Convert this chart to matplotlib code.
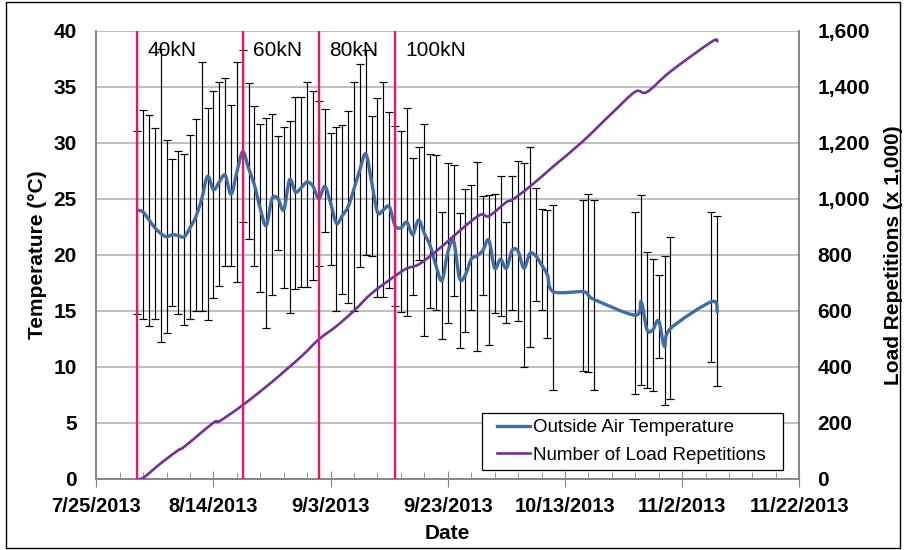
import numpy as np
import pandas as pd
import matplotlib
matplotlib.use("Agg")
from matplotlib import pyplot as plt
import matplotlib.dates as mdates
from matplotlib.lines import Line2D
from matplotlib.patches import Rectangle, PathPatch
from matplotlib.path import Path
from matplotlib.ticker import FuncFormatter

plt.rcParams['font.family'] = ['Liberation Sans', 'DejaVu Sans']

# daily outside air temperature (mean / max / min), days without data are skipped
temp_dates = list(pd.date_range('2013-08-01', '2013-10-11')) + list(pd.to_datetime([
    '2013-10-16', '2013-10-17', '2013-10-18',
    '2013-10-25', '2013-10-26', '2013-10-27', '2013-10-28', '2013-10-29', '2013-10-30', '2013-10-31',
    '2013-11-07', '2013-11-08']))

temp_mean = [24.0, 23.8, 23.1, 22.4, 21.9, 21.6, 21.8, 21.7, 21.6, 22.4,
             23.4, 25.0, 27.0, 25.8, 26.5, 27.1, 25.4, 27.4, 29.2, 27.7,
             26.2, 24.1, 22.6, 25.0, 25.0, 24.0, 26.7, 25.6, 26.0, 26.5,
             26.1, 25.0, 26.1, 24.6, 22.8, 23.5, 24.3, 25.9, 27.6, 29.0,
             26.5, 23.8, 24.0, 24.3, 22.6, 22.4, 22.9, 21.8, 23.1, 21.9,
             20.8, 19.0, 17.7, 20.2, 21.2, 17.9, 18.2, 19.6, 19.9, 20.4,
             21.3, 18.8, 19.6, 18.8, 20.4, 20.3, 18.8, 20.1, 19.9, 19.1,
             18.2, 16.7,
             16.7, 16.4, 16.0,
             14.6, 15.8, 13.3, 13.3, 14.1, 11.8, 13.4,
             15.8, 14.9]

temp_max = [31.0, 32.9, 32.5, 31.3, 38.4, 30.2, 28.5, 29.3, 29.0, 30.7,
            32.1, 37.2, 33.1, 34.6, 35.4, 35.8, 33.4, 37.2, 38.3, 35.3,
            33.3, 31.7, 32.2, 32.6, 30.6, 31.4, 31.9, 34.1, 34.1, 35.4,
            34.6, 33.7, 33.0, 30.9, 31.4, 31.6, 32.8, 35.4, 37.0, 38.3,
            32.4, 34.0, 35.4, 32.7, 31.5, 31.0, 33.1, 28.6, 29.6, 31.7,
            29.0, 28.9, 23.8, 28.2, 28.0, 23.7, 25.9, 26.2, 28.3, 25.2,
            25.3, 25.4, 27.0, 22.9, 27.0, 28.4, 28.2, 29.6, 26.0, 24.1,
            24.0, 24.4,
            24.9, 25.4, 24.9,
            23.8, 25.3, 20.2, 19.6, 18.2, 19.9, 21.6,
            23.8, 23.5]

temp_min = [14.7, 14.3, 13.6, 14.3, 12.2, 13.0, 15.4, 14.7, 13.7, 14.3,
            15.0, 15.0, 14.2, 16.1, 17.2, 19.0, 19.0, 17.6, 22.9, 21.4,
            19.0, 16.7, 13.5, 16.4, 20.4, 17.0, 14.8, 16.9, 17.1, 17.1,
            17.7, 19.0, 22.0, 19.1, 15.0, 16.5, 15.7, 15.0, 18.9, 20.0,
            19.9, 16.2, 16.2, 17.0, 15.4, 14.9, 14.5, 16.4, 19.5, 12.7,
            15.2, 15.1, 12.5, 13.9, 16.3, 11.7, 13.1, 15.1, 11.4, 16.4,
            11.9, 14.8, 14.5, 13.9, 15.1, 14.1, 10.0, 11.8, 15.9, 15.1,
            12.6, 7.9,
            9.6, 9.5, 7.9,
            7.6, 8.4, 8.1, 7.8, 10.8, 6.6, 7.1,
            10.4, 8.3]

# cumulative load repetitions (x 1,000)
load_dates = pd.to_datetime(['2013-08-01', '2013-08-02', '2013-08-05', '2013-08-08', '2013-08-09',
                             '2013-08-14', '2013-08-15', '2013-08-19', '2013-08-24', '2013-08-29',
                             '2013-09-01', '2013-09-04', '2013-09-07', '2013-09-10', '2013-09-14',
                             '2013-09-16', '2013-09-18', '2013-09-21', '2013-09-28', '2013-09-30',
                             '2013-10-03', '2013-10-04', '2013-10-07', '2013-10-11', '2013-10-16',
                             '2013-10-21', '2013-10-25', '2013-10-27', '2013-10-31', '2013-11-07',
                             '2013-11-08'])
load_reps = [0, 3, 55, 102, 114,
             200, 205, 263, 346, 437,
             498, 545, 600, 662, 724,
             751, 765, 812, 936, 938,
             988, 996, 1043, 1115, 1204,
             1305, 1382, 1381, 1454, 1560,
             1562]

# load level changes
stage_dates = pd.to_datetime(['2013-08-01', '2013-08-19', '2013-09-01', '2013-09-14'])
stage_labels = ['40kN', '60kN', '80kN', '100kN']

temp_mean = np.array(temp_mean)
temp_max = np.array(temp_max)
temp_min = np.array(temp_min)


def smooth_line(a, dates, vals, color, lw, z):
    # excel style smoothed line: bezier segments through the points
    x = mdates.date2num(pd.to_datetime(dates))
    y = np.asarray(vals, dtype=float)
    n = len(x)
    verts = [(x[0], y[0])]
    codes = [Path.MOVETO]
    for i in range(n - 1):
        p0 = max(i - 1, 0)
        p3 = min(i + 2, n - 1)
        verts.append((x[i] + (x[i + 1] - x[p0]) / 6, y[i] + (y[i + 1] - y[p0]) / 6))
        verts.append((x[i + 1] - (x[p3] - x[i]) / 6, y[i + 1] - (y[p3] - y[i]) / 6))
        verts.append((x[i + 1], y[i + 1]))
        codes += [Path.CURVE4] * 3
    a.add_patch(PathPatch(Path(verts, codes), fill=False, edgecolor=color, lw=lw,
                          zorder=z, capstyle='round', joinstyle='round'))


fig, ax = plt.subplots(figsize=(9.06, 5.5), dpi=100)
fig.subplots_adjust(left=0.1063, right=0.8822, top=0.9442, bottom=0.1296)
ax2 = ax.twinx()

blue = '#3D6EA8'
purple = '#7030A0'
red = '#FF0A64'

ax.errorbar(temp_dates, temp_mean, yerr=[temp_mean - temp_min, temp_max - temp_mean],
            fmt='none', ecolor='black', elinewidth=0.85, capsize=3, capthick=0.85, zorder=2)
smooth_line(ax, temp_dates, temp_mean, blue, 2.4, 3)
smooth_line(ax2, load_dates, load_reps, purple, 1.9, 3)

for d, lab in zip(stage_dates, stage_labels):
    ax2.axvline(d, color=red, lw=1.6, zorder=4)
    ax2.text(d + pd.Timedelta(days=1.8), 1530, lab, fontsize=15, va='center', ha='left', zorder=5)

ax.set_ylim(0, 40)
ax2.set_ylim(0, 1600)

start = pd.Timestamp('2013-07-25')
ax.set_xlim(start, pd.Timestamp('2013-11-22'))

ax.set_yticks(np.arange(0, 41, 5))
ax2.set_yticks(np.arange(0, 1601, 200))
ax2.yaxis.set_major_formatter(FuncFormatter(lambda v, p: f'{int(v):,}'))

major = [start + pd.Timedelta(days=20 * k) for k in range(7)]
minor = [start + pd.Timedelta(days=4 * k) for k in range(31)]
ax.set_xticks(major)
ax.set_xticks(minor, minor=True)
ax.xaxis.set_major_formatter(FuncFormatter(
    lambda v, p: f'{mdates.num2date(v).month}/{mdates.num2date(v).day}/{mdates.num2date(v).year}'))

ax.grid(axis='y', color='#BFBFBF', lw=1.4, zorder=0)
ax.set_axisbelow(True)

for a in (ax, ax2):
    for s in a.spines.values():
        s.set_color('#868686')
        s.set_linewidth(1.2)
    a.spines['top'].set_visible(False)

ax.tick_params(axis='y', length=0, pad=14, labelsize=15)
ax2.tick_params(axis='y', length=0, pad=13, labelsize=15)
ax.tick_params(axis='x', which='major', direction='inout', length=12, color='#868686', pad=7, labelsize=14.5)
ax.tick_params(axis='x', which='minor', direction='in', length=5, color='#868686')
for lab in ax.get_xticklabels() + ax.get_yticklabels() + ax2.get_yticklabels():
    lab.set_fontweight('bold')

ax.set_xlabel('Date', fontsize=15, fontweight='bold', labelpad=6)
ax.set_ylabel('Temperature (°C)', fontsize=15, fontweight='bold', labelpad=5)
ax2.set_ylabel('Load Repetitions (x 1,000)', fontsize=15, fontweight='bold', labelpad=10)

# legend without its own frame, box drawn to match the wider padding
handles = [Line2D([], [], color=blue, lw=2.4), Line2D([], [], color=purple, lw=1.9)]
leg = ax2.legend(handles, ['Outside Air Temperature', 'Number of Load Repetitions'],
                 loc='center left', bbox_to_anchor=(0.570, 0.083), fontsize=13.5,
                 frameon=False, handlelength=1.75, handletextpad=0.15, borderpad=0,
                 labelspacing=0.55, borderaxespad=0)
leg.set_zorder(10)
ax2.add_patch(Rectangle((0.5487, 0.0194), 0.4281, 0.1273, transform=ax2.transAxes,
                        facecolor='white', edgecolor='black', lw=0.9, zorder=9))

fig.patches.append(Rectangle((0.007, 0.004), 0.986, 0.992, transform=fig.transFigure,
                             fill=False, edgecolor='black', lw=1))

fig.savefig('out.png', dpi=100)
